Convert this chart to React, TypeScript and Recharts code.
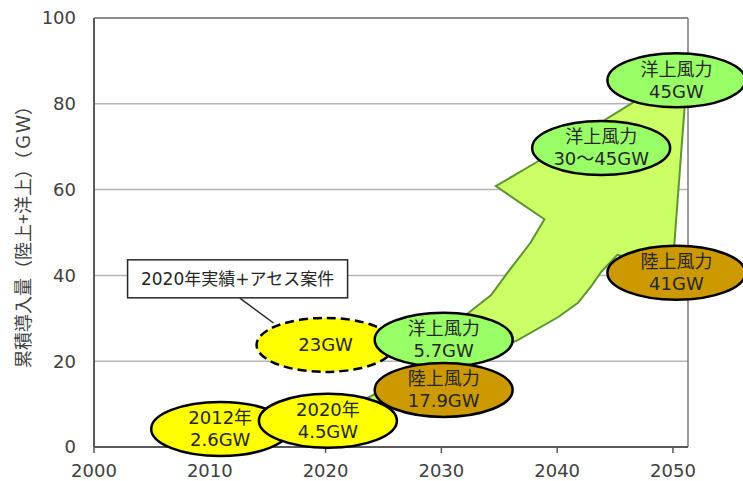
import React from 'react';
import {
  ComposedChart,
  Scatter,
  XAxis,
  YAxis,
  CartesianGrid,
  ReferenceLine,
  Label,
} from 'recharts';

// arrow outline (year, GW), tail -> head -> back to tail
const arrowYears = [
  2022.6, 2023.6, 2024.6, 2026.5, 2032.3, 2034.3, 2035.7, 2037.7, 2038.9, 2034.7,
  2038.1, 2046.6, 2050.0, 2051.0, 2050.1, 2049.7, 2045.2, 2043.8, 2042.9, 2041.8,
  2040.1, 2036.6, 2033.4, 2030.2, 2026.5, 2024.3,
];
const arrowGW = [
  8.2, 11.4, 12.8, 16.1, 31.2, 35.4, 40.6, 47.6, 53.1, 60.8,
  66.2, 80.4, 84.4, 79.0, 46.6, 41.7, 44.8, 40.8, 37.3, 33.6,
  30.3, 24.9, 21.4, 18.9, 13.3, 9.8,
];

// bubbles, in drawing order
const bubbleYears = [2020.0, 2030.2, 2030.2, 2010.9, 2020.2, 2043.8, 2050.3, 2050.3];
const bubbleGW = [23.8, 25.0, 13.3, 4.2, 6.1, 69.7, 85.5, 40.6];
const bubbleLine1 = ['23GW', '洋上風力', '陸上風力', '2012年', '2020年', '洋上風力', '洋上風力', '陸上風力'];
const bubbleLine2 = ['', '5.7GW', '17.9GW', '2.6GW', '4.5GW', '30～45GW', '45GW', '41GW'];
const bubbleKind = ['assess', 'offshore', 'onshore', 'actual', 'actual', 'offshore', 'offshore', 'onshore'];

const calloutYear = [2012.4];
const calloutGW = [39.2];
const calloutText = ['2020年実績+アセス案件'];
const leaderYears = [2012.6, 2015.5];
const leaderGW = [34.7, 28.9];

const xTicks = [2000, 2010, 2020, 2030, 2040, 2050];
const yTicks = [0, 20, 40, 60, 80, 100];

const FONT = "'DejaVu Sans', 'Noto Sans CJK JP', sans-serif";
const JP_FONT = "'Noto Sans CJK JP', sans-serif";

const KIND_STYLE: Record<string, { fill: string; dash?: string }> = {
  actual: { fill: '#ffff00' },
  assess: { fill: '#ffff00', dash: '9 5' },
  offshore: { fill: '#99ff66' },
  onshore: { fill: '#cc9900' },
};

const arrowData = arrowYears.map((x, i) => ({ x, y: arrowGW[i] }));
const bubbleData = bubbleYears.map((x, i) => ({
  x,
  y: bubbleGW[i],
  l1: bubbleLine1[i],
  l2: bubbleLine2[i],
  kind: bubbleKind[i],
}));
const calloutData = calloutYear.map((x, i) => ({ x, y: calloutGW[i], text: calloutText[i] }));

const Bubble = (props: any) => {
  const { cx, cy, payload } = props;
  const st = KIND_STYLE[payload.kind];
  const textProps = {
    textAnchor: 'middle' as const,
    dominantBaseline: 'central' as const,
    fontSize: 18,
    fontFamily: FONT,
    fill: '#262626',
  };
  return (
    <g>
      <ellipse
        cx={cx}
        cy={cy}
        rx={69}
        ry={27}
        fill={st.fill}
        stroke="#000"
        strokeWidth={2.5}
        strokeDasharray={st.dash}
      />
      {payload.l2 ? (
        <>
          <text x={cx} y={cy - 11} {...textProps}>{payload.l1}</text>
          <text x={cx} y={cy + 11} {...textProps}>{payload.l2}</text>
        </>
      ) : (
        <text x={cx} y={cy} {...textProps}>{payload.l1}</text>
      )}
    </g>
  );
};

const Callout = (props: any) => {
  const { cx, cy, payload } = props;
  return (
    <g>
      <rect x={cx - 110} y={cy - 19} width={220} height={38} fill="#fff" stroke="#262626" strokeWidth={1.5} />
      <text
        x={cx}
        y={cy}
        textAnchor="middle"
        dominantBaseline="central"
        fontSize={17}
        fontFamily={FONT}
        fill="#262626"
      >
        {payload.text}
      </text>
    </g>
  );
};

export default function App() {
  return (
    <div style={{ position: 'absolute', left: 0, top: 0, background: '#fff' }}>
      <ComposedChart
        width={743}
        height={481}
        margin={{ top: 18, right: 55, bottom: 0, left: 0 }}
        style={{ fontFamily: FONT }}
      >
        <CartesianGrid horizontal vertical={false} stroke="#b4b4b4" strokeWidth={1.5} />
        <XAxis
          type="number"
          dataKey="x"
          domain={[2000, 2051.3]}
          ticks={xTicks}
          height={34}
          tickSize={6}
          tickMargin={11}
          axisLine={{ stroke: '#595959', strokeWidth: 2 }}
          tickLine={{ stroke: '#595959', strokeWidth: 1.5 }}
          tick={{ fontSize: 18, fill: '#404040', fontFamily: FONT }}
        />
        <YAxis
          type="number"
          dataKey="y"
          domain={[0, 100]}
          ticks={yTicks}
          width={94}
          tickSize={0}
          tickMargin={18}
          axisLine={{ stroke: '#595959', strokeWidth: 2 }}
          tickLine={false}
          tick={{ fontSize: 18, fill: '#404040', fontFamily: FONT }}
        >
          <Label
            value="累積導入量（陸上+洋上）（ＧＷ）"
            angle={-90}
            position="insideLeft"
            offset={24}
            style={{ textAnchor: 'middle', fontSize: 18, fill: '#404040', fontFamily: JP_FONT }}
          />
        </YAxis>
        <ReferenceLine y={100} stroke="#7a7a7a" strokeWidth={1.5} />
        <ReferenceLine x={2051.3} stroke="#7a7a7a" strokeWidth={1.5} />

        <Scatter
          data={arrowData}
          line={{ fill: '#ccff66', stroke: '#5e9432', strokeWidth: 2 }}
          lineType="joint"
          lineJointType="linearClosed"
          shape={() => <g />}
          isAnimationActive={false}
        />

        <ReferenceLine
          segment={[
            { x: leaderYears[0], y: leaderGW[0] },
            { x: leaderYears[1], y: leaderGW[1] },
          ]}
          stroke="#262626"
          strokeWidth={1.5}
        />
        <Scatter data={calloutData} shape={(p: any) => <Callout {...p} />} isAnimationActive={false} />
        <Scatter data={bubbleData} shape={(p: any) => <Bubble {...p} />} isAnimationActive={false} />
      </ComposedChart>
    </div>
  );
}
